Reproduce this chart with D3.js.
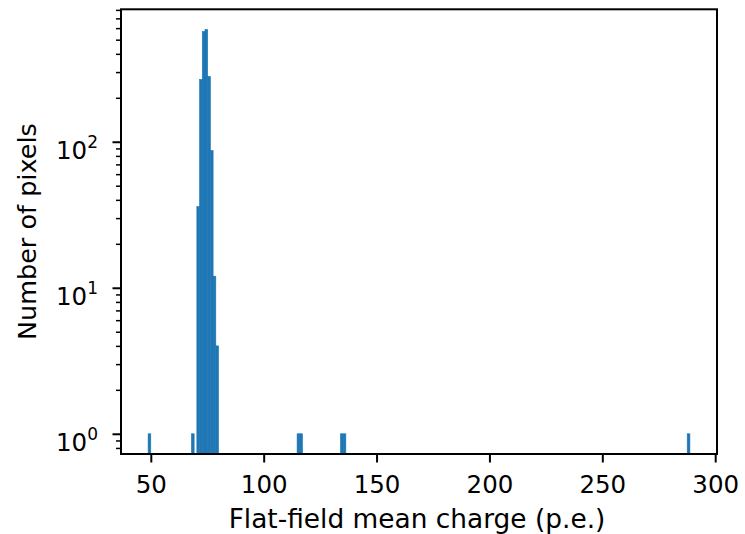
<!DOCTYPE html>
<html>
<head>
<meta charset="utf-8">
<script src="https://cdn.jsdelivr.net/npm/d3@7"></script>
<style>
  html, body { margin: 0; padding: 0; background: #fff; }
  svg { display: block; font-family: "DejaVu Sans", sans-serif; }
</style>
</head>
<body>
<svg id="chart" width="745" height="534"></svg>
<script>
// ---- data ----
const binWidth = 1.2;
const binLow = [48.8, 68.0, 70.4, 71.6, 72.8, 74.0, 75.2, 76.4, 77.6, 78.8,
                114.8, 116.0, 134.0, 135.2, 287.6];
const counts = [1, 1, 36, 267, 569, 587, 280, 87, 12, 4,
                1, 1, 1, 1, 1];
const dataMin = 48.8, dataMax = 288.8;
const xTicks = [50, 100, 150, 200, 250, 300];
const yMajorExp = [0, 1, 2];
const xLabel = "Flat-field mean charge (p.e.)";
const yLabel = "Number of pixels";

// ---- layout ----
const svg = d3.select("#chart");
const L = 121, R = 717, T = 9.3, B = 454;

const xPad = (dataMax - dataMin) * 0.05;
const x = d3.scaleLinear().domain([dataMin - xPad, dataMax + xPad]).range([L, R]);

const lo = Math.log10(d3.min(counts)), hi = Math.log10(d3.max(counts));
const m = (hi - lo) * 0.05;
const y = d3.scaleLog().domain([Math.pow(10, lo - m), Math.pow(10, hi + m)]).range([B, T]);

const color = "#1f77b4";

// bars
svg.append("g").selectAll("rect")
  .data(binLow.map((b, i) => ({ b, c: counts[i] })))
  .join("rect")
  .attr("x", d => x(d.b))
  .attr("width", d => x(d.b + binWidth) - x(d.b))
  .attr("y", d => y(d.c))
  .attr("height", d => B - y(d.c))
  .attr("fill", color)
  .attr("stroke", color)
  .attr("stroke-width", 0.6);

// x axis
const xAxis = d3.axisBottom(x).tickValues(xTicks).tickSize(8.5).tickPadding(6).tickFormat(d3.format("d"));
const gx = svg.append("g").attr("transform", `translate(0,${B})`).call(xAxis);
gx.select(".domain").remove();
gx.selectAll(".tick line").attr("stroke", "#000").attr("stroke-width", 2);
gx.selectAll(".tick text").attr("font-size", 24.5).attr("fill", "#000")
  .attr("font-family", "DejaVu Sans").attr("dy", null).attr("y", 39);

// y minor ticks
const [y0, y1] = y.domain();
const minor = [];
for (let e = Math.floor(Math.log10(y0)); e <= Math.ceil(Math.log10(y1)); e++) {
  for (let k = 2; k <= 9; k++) {
    const v = k * Math.pow(10, e);
    if (v >= y0 && v <= y1 * 1.001) minor.push(v);
  }
}
const yMinor = d3.axisLeft(y).tickValues(minor).tickSize(5).tickFormat("");
const gym = svg.append("g").attr("transform", `translate(${L},0)`).call(yMinor);
gym.select(".domain").remove();
gym.selectAll(".tick line").attr("stroke", "#000").attr("stroke-width", 1.5);

// y major ticks
const majors = yMajorExp.map(e => Math.pow(10, e));
const yMajor = d3.axisLeft(y).tickValues(majors).tickSize(8.5).tickFormat("");
const gy = svg.append("g").attr("transform", `translate(${L},0)`).call(yMajor);
gy.select(".domain").remove();
gy.selectAll(".tick line").attr("stroke", "#000").attr("stroke-width", 2);

// y tick labels: 10^e
const lab = svg.append("g").selectAll("text").data(yMajorExp).join("text")
  .attr("x", L - 23)
  .attr("y", e => y(Math.pow(10, e)) + 17.3)
  .attr("text-anchor", "end")
  .attr("font-size", 24.5)
  .attr("fill", "#000");
lab.append("tspan").text("10");
lab.append("tspan").attr("dy", -11).attr("font-size", 17).text(e => String(e));

// frame
svg.append("rect").attr("x", L).attr("y", T).attr("width", R - L).attr("height", B - T)
  .attr("fill", "none").attr("stroke", "#000").attr("stroke-width", 2);

// axis labels
svg.append("text").attr("x", (L + R) / 2 - 2).attr("y", 528).attr("text-anchor", "middle")
  .attr("font-size", 26.4).attr("fill", "#000").text(xLabel);
svg.append("text").attr("transform", `translate(36,${(T + B) / 2}) rotate(-90)`)
  .attr("text-anchor", "middle").attr("font-size", 25.5).attr("fill", "#000").text(yLabel);
</script>
</body>
</html>
